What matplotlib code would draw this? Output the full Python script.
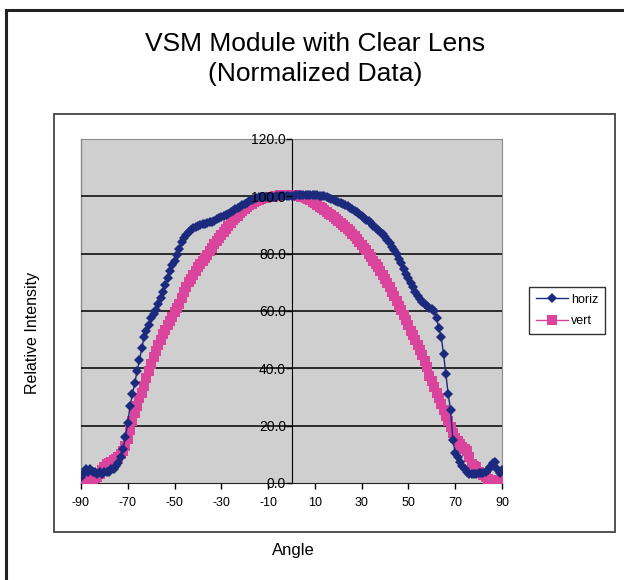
import numpy as np
import matplotlib.pyplot as plt
from matplotlib.patches import Rectangle

plt.rcParams['font.family'] = ['Liberation Sans', 'DejaVu Sans']

# =========================
# Data (1 degree steps)
# =========================
angle = np.arange(-90, 91)

horiz = [
    2, 3, 5, 4, 5, 4, 4, 3, 4, 3,                                # -90..-81
    4, 4, 4, 5, 5, 6, 7, 9, 12, 16,                              # -80..-71
    21, 27, 31, 35, 39, 43, 47, 51, 53, 55,                      # -70..-61
    57.5, 59, 60.5, 62.5, 64.5, 66.5, 69, 71.5, 74, 76,          # -60..-51
    77.5, 79.5, 81.5, 84, 85.5, 86.5, 87.5, 88.2, 88.8, 89.2,    # -50..-41
    89.6, 90, 90.2, 90.5, 90.7, 91, 91.2, 91.5, 92, 92.4,        # -40..-31
    92.8, 93.1, 93.5, 94, 94.5, 95, 95.5, 96, 96.4, 96.9,        # -30..-21
    97.4, 97.8, 98.3, 98.8, 99.2, 99.5, 99.6, 99.7, 99.7, 99.8,  # -20..-11
    99.8, 99.9, 99.9, 99.9, 100, 100, 100, 100, 100, 100,        # -10..-1
    100,                                                         # 0
    100.2, 100.3, 100.4, 100.4, 100.5, 100.5, 100.5, 100.4, 100.4, 100.3,  # 1..10
    100.3, 100.2, 100.1, 100, 99.8, 99.5, 99.2, 98.8, 98.4, 98,  # 11..20
    97.6, 97.2, 96.9, 96.5, 96, 95.6, 95, 94.5, 93.8, 93.2,      # 21..30
    92.6, 91.9, 91.3, 90.6, 89.8, 89, 88.2, 87.5, 86.7, 85.9,    # 31..40
    84.8, 83.6, 82.4, 81.2, 80, 78.3, 76.6, 74.8, 73, 71.4,      # 41..50
    69.8, 68.3, 66.8, 65.4, 64.3, 63.3, 62.5, 61.8, 61.2, 60.7,  # 51..60
    60, 57.5, 54, 51, 45, 38, 31, 25.5, 15, 10.5,                # 61..70
    9, 7.5, 6, 5, 4, 3, 3, 3, 3, 3.4,                            # 71..80
    3.5, 3.5, 4, 4.5, 5.5, 7, 7.5, 5, 3.5, 4.5,                  # 81..90
]

vert = [
    1, 1, 1, 1.2, 1.3, 1.5, 1.6, 2, 3, 4.5,                      # -90..-81
    5.5, 6.5, 7, 7.5, 8, 8.5, 9.2, 10, 11, 13,                   # -80..-71
    15.5, 18.5, 21.5, 24.5, 27, 29.5, 31.3, 34, 36.5, 39,        # -70..-61
    41.5, 44, 46, 48, 50, 52, 53.5, 55, 56.5, 58,                # -60..-51
    59.5, 61, 62.5, 64.5, 66.5, 68.5, 70, 71, 72.5, 74,          # -50..-41
    75.5, 76.5, 77.5, 78.5, 79.5, 80.8, 82, 83.2, 84.3, 85.4,    # -40..-31
    86.4, 87.4, 88.5, 89.6, 90.7, 91.6, 92.5, 93.3, 94.1, 94.9,  # -30..-21
    95.6, 96.4, 97, 97.5, 98, 98.4, 98.8, 99.1, 99.3, 99.5,      # -20..-11
    99.7, 99.8, 99.9, 100, 100.1, 100.3, 100.4, 100.5, 100.5, 100.5,  # -10..-1
    100.5,                                                       # 0
    100.4, 100.3, 100.1, 99.9, 99.6, 99.3, 99, 98.6, 98.1, 97.6, # 1..10
    97, 96.4, 95.8, 95.1, 94.5, 94, 93.4, 92.8, 92.2, 91.5,      # 11..20
    90.8, 90.1, 89.3, 88.6, 88, 87, 86, 85, 84, 83,              # 21..30
    82, 81.2, 80, 78.8, 77.6, 76.5, 75.4, 74, 72.5, 71,          # 31..40
    69.7, 68.3, 66.7, 65.1, 63.5, 61.9, 60.2, 58.5, 56.8, 55,    # 41..50
    53, 51.5, 50, 48.3, 46.5, 44.5, 42.5, 40.5, 37.5, 35.5,      # 51..60
    33.5, 31.5, 29.5, 27.5, 25.5, 23.5, 21.5, 19.5, 17.3, 15.8,  # 61..70
    14.5, 13.5, 12.7, 12, 11, 9, 6.5, 6, 5.7, 4,                 # 71..80
    3.4, 2.8, 2.2, 1.5, 1, 1, 1, 1, 1, 1,                        # 81..90
]

xticks = [-90, -70, -50, -30, -10, 10, 30, 50, 70, 90]
yticks = [0, 20, 40, 60, 80, 100, 120]

navy = '#1C2A7E'
pink = '#DA449C'

# =========================
# Figure
# =========================
fig = plt.figure(figsize=(6.24, 5.8), dpi=100)
W, H = 624, 580

# outer frame and chart area
fig.patches.append(Rectangle((5.5 / W, -0.05), 1.2, 1 - 9.5 / H + 0.05,
                             transform=fig.transFigure, fill=False,
                             edgecolor='#222222', lw=2.2))
fig.patches.append(Rectangle((54 / W, 1 - 532 / H), (615 - 54) / W, (532 - 114) / H,
                             transform=fig.transFigure, fill=False,
                             edgecolor='#444444', lw=1.3))

ax = fig.add_axes([81 / W, 1 - 483 / H, 421 / W, 344 / H])
ax.set_facecolor('#CFCFCF')

ax.plot(angle, horiz, color=navy, lw=1, marker='D', markersize=5.5,
        markeredgewidth=0, label='horiz', zorder=4)
ax.plot(angle, vert, color=pink, lw=1, marker='s', markersize=6.5,
        markeredgewidth=0, label='vert', zorder=3)

ax.set_xlim(-90, 90)
ax.set_ylim(0, 120)
ax.set_xticks(xticks)
ax.set_xticklabels([str(t) for t in xticks], fontsize=9)
ax.set_yticks(yticks)
ax.set_yticklabels(['%.1f' % t for t in yticks], fontsize=8.5)

for y in yticks[1:-1]:
    ax.axhline(y, color='black', lw=1.1, zorder=2)

# y axis crosses at 0, its labels sit on top of the curves
ax.spines['left'].set_position(('data', 0))
ax.spines['left'].set_zorder(2)
ax.yaxis.set_zorder(5)
for s in ['top', 'right']:
    ax.spines[s].set_color('#8A8A8A')
ax.spines['bottom'].set_color('#222222')
ax.plot([-90, -90], [0, 120], color='#8A8A8A', lw=1, clip_on=False, zorder=1)
ax.tick_params(axis='both', length=4, width=1, color='black')
ax.tick_params(axis='y', pad=0)
ax.tick_params(axis='x', pad=6)

fig.legend(loc='upper left', bbox_to_anchor=(529 / W, 1 - 287 / H),
           fontsize=9, frameon=True, fancybox=False, edgecolor='black',
           handlelength=2.6, borderpad=0.55, labelspacing=0.75,
           handletextpad=0.2, borderaxespad=0)

fig.text(315 / W, 1 - 59 / H, 'VSM Module with Clear Lens\n(Normalized Data)',
         ha='center', va='center', fontsize=19, linespacing=1.35)
fig.text(33 / W, 1 - 333 / H, 'Relative Intensity', rotation=90,
         ha='center', va='center', fontsize=11.5)
fig.text(293 / W, 1 - 551 / H, 'Angle', ha='center', va='center', fontsize=12)

fig.savefig('out.png', dpi=100)
